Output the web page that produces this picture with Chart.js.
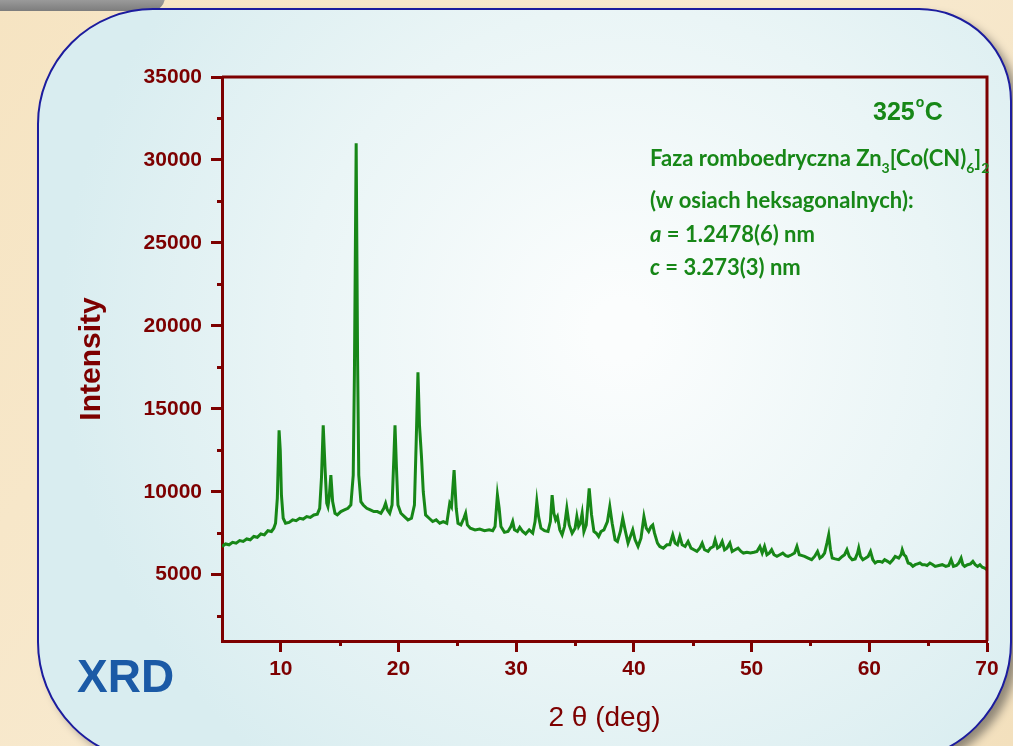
<!DOCTYPE html>
<html>
<head>
<meta charset="utf-8">
<script src="https://cdn.jsdelivr.net/npm/chart.js@4/dist/chart.umd.min.js"></script>
<style>
html, body { margin: 0; padding: 0; background: #f5e5c6; overflow: hidden; }
canvas { display: block; }
</style>
</head>
<body>
<canvas id="chart" width="1013" height="746"></canvas>
<script>
// 2θ positions (deg)
const twoTheta = [
  5.0, 5.3, 5.6, 5.9, 6.2, 6.5, 6.8, 7.1, 7.4, 7.7,
  8.0, 8.3, 8.6, 8.9, 9.2, 9.4, 9.55, 9.7, 9.85, 9.95,
  10.05, 10.2, 10.4, 10.7, 11.0, 11.3, 11.6, 11.9, 12.2, 12.5,
  12.8, 13.1, 13.3, 13.45, 13.6, 13.75, 13.9, 14.0, 14.1, 14.25,
  14.4, 14.6, 14.8, 15.1, 15.4, 15.7, 15.95, 16.15, 16.25, 16.4,
  16.52, 16.62, 16.8, 17.0, 17.3, 17.6, 17.9, 18.2, 18.5, 18.75,
  18.9, 19.05, 19.25, 19.45, 19.6, 19.7, 19.82, 19.95, 20.2, 20.5,
  20.8, 21.1, 21.35, 21.5, 21.65, 21.78, 21.95, 22.1, 22.3, 22.6,
  22.9, 23.2, 23.5, 23.8, 24.1, 24.35, 24.5, 24.72, 24.9, 25.05,
  25.3, 25.55, 25.7, 25.85, 26.1, 26.5, 26.9, 27.3, 27.7, 28.0,
  28.2, 28.4, 28.55, 28.7, 29.0, 29.3, 29.55, 29.7, 29.85, 30.1,
  30.3, 30.55, 30.8, 31.1, 31.4, 31.6, 31.75, 31.9, 32.1, 32.4,
  32.7, 32.9, 33.05, 33.2, 33.35, 33.5, 33.7, 33.9, 34.1, 34.3,
  34.5, 34.75, 35.0, 35.15, 35.3, 35.45, 35.6, 35.75, 35.95, 36.2,
  36.4, 36.6, 36.8, 37.0, 37.2, 37.45, 37.75, 37.95, 38.15, 38.4,
  38.6, 38.85, 39.05, 39.25, 39.5, 39.7, 39.9, 40.1, 40.35, 40.6,
  40.85, 41.05, 41.25, 41.45, 41.6, 41.75, 42.0, 42.2, 42.5, 42.8,
  43.05, 43.3, 43.5, 43.7, 43.9, 44.1, 44.35, 44.6, 44.85, 45.1,
  45.35, 45.6, 45.8, 46.0, 46.3, 46.5, 46.75, 46.9, 47.1, 47.3,
  47.5, 47.7, 47.9, 48.15, 48.35, 48.6, 48.85, 49.1, 49.3, 49.6,
  49.9, 50.2, 50.45, 50.7, 50.9, 51.1, 51.3, 51.5, 51.7, 51.9,
  52.15, 52.4, 52.65, 52.9, 53.1, 53.4, 53.65, 53.85, 54.05, 54.3,
  54.5, 54.8, 55.1, 55.35, 55.6, 55.8, 56.0, 56.2, 56.4, 56.55,
  56.7, 56.85, 57.1, 57.4, 57.7, 57.9, 58.1, 58.3, 58.55, 58.8,
  59.0, 59.1, 59.25, 59.45, 59.7, 59.9, 60.1, 60.3, 60.5, 60.7,
  60.9, 61.1, 61.3, 61.55, 61.75, 62.0, 62.2, 62.5, 62.7, 62.8,
  62.95, 63.1, 63.3, 63.5, 63.7, 63.9, 64.1, 64.3, 64.5, 64.7,
  64.9, 65.15, 65.4, 65.6, 65.9, 66.2, 66.5, 66.75, 66.95, 67.15,
  67.4, 67.6, 67.8, 67.95, 68.1, 68.35, 68.6, 68.8, 69.0, 69.2,
  69.4, 69.6, 69.8, 70.0
];

// intensity (counts) at each 2θ above
const intensity = [
  6700, 6850, 6800, 6950, 6900, 7050, 7000, 7150, 7100, 7300,
  7250, 7450, 7400, 7650, 7600, 7800, 8100, 9600, 13700, 12500,
  9800, 8400, 8100, 8150, 8300, 8250, 8400, 8350, 8500, 8450,
  8600, 8650, 9000, 10800, 14000, 11500, 9300, 9100, 9600, 11000,
  9400, 8700, 8600, 8800, 8900, 9000, 9200, 11000, 17000, 31000,
  18000, 11000, 9400, 9200, 9000, 8900, 8800, 8800, 8700, 9000,
  9300, 8900, 8700, 9200, 12000, 14000, 11500, 9200, 8700, 8500,
  8300, 8400, 9200, 13000, 17200, 14000, 12100, 10000, 8600, 8400,
  8200, 8300, 8100, 8200, 8100, 9300, 9100, 11300, 9000, 8100,
  8000, 8400, 8700, 8000, 7800, 7700, 7750, 7650, 7700, 7650,
  7900, 9800, 9000, 7900, 7550, 7600, 7900, 8200, 7700, 7600,
  7850, 7600, 7450, 7700, 7500, 8200, 9400, 8500, 7800, 7650,
  7600, 8200, 9800, 8700, 8300, 8500, 7700, 7400, 7900, 9000,
  8000, 7500, 7800, 8500, 7900, 8100, 8700, 7600, 8000, 10200,
  8600, 7600, 7500, 7300, 7600, 7700, 8200, 9100, 8100, 7100,
  7000, 7600, 8400, 7700, 6900, 7300, 7700, 7100, 6700, 7200,
  8500, 7800, 7600, 7900, 8000, 7500, 6900, 6700, 6600, 6800,
  6800, 7400, 6900, 6800, 7300, 6800, 6700, 7000, 6600, 6500,
  6400, 6600, 6900, 6500, 6400, 6600, 6700, 7100, 6600, 6700,
  7000, 6500, 6600, 6900, 6400, 6500, 6600, 6400, 6300, 6350,
  6300, 6350, 6400, 6700, 6300, 6700, 6200, 6300, 6500, 6200,
  6100, 6200, 6300, 6150, 6100, 6200, 6300, 6700, 6200, 6150,
  6100, 6000, 5900, 6100, 6400, 6000, 6100, 6300, 6900, 7400,
  6500, 6000, 5950, 5900, 6100, 6200, 6500, 6100, 5900, 5950,
  6300, 6600, 6100, 5900, 6000, 6100, 6400, 5900, 5700, 5800,
  5800, 5750, 5900, 5800, 5700, 5900, 6100, 6000, 6200, 6500,
  6200, 6100, 5700, 5650, 5500, 5600, 5650, 5700, 5600, 5600,
  5550, 5700, 5600, 5500, 5550, 5600, 5500, 5550, 5900, 5500,
  5550, 5700, 6000, 5600, 5500, 5600, 5650, 5800, 5600, 5500,
  5600, 5450, 5400, 5300
];

const xTicks = [10, 20, 30, 40, 50, 60, 70];
const xMinorTicks = [15, 25, 35, 45, 55, 65];
const yTicks = [5000, 10000, 15000, 20000, 25000, 30000, 35000];
const yMinorTicks = [2500, 7500, 12500, 17500, 22500, 27500, 32500];

const AXIS = '#7d0000';
const GREEN = '#178717';

function panelPath(ctx, x, y, w, h, r) {
  const [tl, tr, br, bl] = r;
  ctx.beginPath();
  ctx.moveTo(x + tl, y);
  ctx.lineTo(x + w - tr, y);
  ctx.arcTo(x + w, y, x + w, y + tr, tr);
  ctx.lineTo(x + w, y + h - br);
  ctx.arcTo(x + w, y + h, x + w - br, y + h, br);
  ctx.lineTo(x + bl, y + h);
  ctx.arcTo(x, y + h, x, y + h - bl, bl);
  ctx.lineTo(x, y + tl);
  ctx.arcTo(x, y, x + tl, y, tl);
  ctx.closePath();
}

const backdrop = {
  id: 'backdrop',
  beforeDraw(chart) {
    const ctx = chart.ctx;
    ctx.save();
    // beige page
    const bg = ctx.createLinearGradient(0, 0, 1013, 746);
    bg.addColorStop(0, '#f6e4c2');
    bg.addColorStop(0.5, '#f8ead0');
    bg.addColorStop(1, '#f3e0bd');
    ctx.fillStyle = bg;
    ctx.fillRect(0, 0, 1013, 746);

    // grey tab at top-left
    const g = ctx.createLinearGradient(0, 0, 0, 12);
    g.addColorStop(0, '#9a9a9a');
    g.addColorStop(1, '#7a7a7a');
    ctx.fillStyle = g;
    panelPath(ctx, -30, -40, 195, 51, [14, 14, 14, 14]);
    ctx.fill();

    // light blue panel with shadow
    ctx.shadowColor = 'rgba(60,60,60,0.55)';
    ctx.shadowBlur = 10;
    ctx.shadowOffsetX = 7;
    ctx.shadowOffsetY = 6;
    const pg = ctx.createRadialGradient(620, 330, 30, 620, 330, 560);
    pg.addColorStop(0, '#fbfdfd');
    pg.addColorStop(0.55, '#eaf5f6');
    pg.addColorStop(1, '#d9edf0');
    ctx.fillStyle = pg;
    panelPath(ctx, 38, 9, 973, 753, [115, 92, 120, 120]);
    ctx.fill();
    ctx.shadowColor = 'transparent';
    ctx.lineWidth = 2;
    ctx.strokeStyle = '#1c1c9e';
    ctx.stroke();
    ctx.restore();
  },
  afterDatasetsDraw(chart) {
    const ctx = chart.ctx;
    const xs = chart.scales.x, ys = chart.scales.y;
    const a = chart.chartArea;
    ctx.save();
    ctx.strokeStyle = AXIS;
    ctx.lineWidth = 3;
    // top and right frame
    ctx.beginPath();
    ctx.moveTo(a.left, a.top);
    ctx.lineTo(a.right, a.top);
    ctx.lineTo(a.right, a.bottom);
    ctx.stroke();
    // minor ticks
    ctx.beginPath();
    xMinorTicks.forEach(v => {
      const px = Math.round(xs.getPixelForValue(v)) + 0.5;
      ctx.moveTo(px, a.bottom);
      ctx.lineTo(px, a.bottom + 5);
    });
    yMinorTicks.forEach(v => {
      const py = Math.round(ys.getPixelForValue(v)) + 0.5;
      ctx.moveTo(a.left, py);
      ctx.lineTo(a.left - 5, py);
    });
    ctx.stroke();
    ctx.restore();
  },
  afterDraw(chart) {
    const ctx = chart.ctx;
    ctx.save();
    ctx.fillStyle = GREEN;
    ctx.textBaseline = 'alphabetic';

    // temperature
    ctx.font = 'bold 25px "Liberation Sans"';
    ctx.fillText('325', 873, 120);
    let w = ctx.measureText('325').width;
    ctx.font = 'bold 14px "Liberation Sans"';
    ctx.fillText('o', 873 + w + 1, 107);
    ctx.font = 'bold 25px "Liberation Sans"';
    ctx.fillText('C', 873 + w + 10, 120);

    const runs = (x, y, parts) => {
      let cx = x;
      parts.forEach(p => {
        ctx.font = p.font;
        ctx.fillText(p.text, cx, y + (p.dy || 0));
        cx += ctx.measureText(p.text).width;
      });
    };
    const B = 'bold 22px Lato';
    const S = 'bold 14px Lato';
    const I = 'italic bold 22px Lato';
    runs(650, 166, [
      { text: 'Faza romboedryczna Zn', font: B },
      { text: '3', font: S, dy: 7 },
      { text: '[Co(CN)', font: B },
      { text: '6', font: S, dy: 7 },
      { text: ']', font: B },
      { text: '2', font: S, dy: 7 }
    ]);
    runs(650, 208, [{ text: '(w osiach heksagonalnych):', font: B }]);
    runs(650, 242, [{ text: 'a', font: I }, { text: ' = 1.2478(6) nm', font: B }]);
    runs(650, 275, [{ text: 'c', font: I }, { text: ' = 3.273(3) nm', font: B }]);

    // XRD label
    ctx.fillStyle = '#1b5aa6';
    ctx.font = 'bold 46px "Liberation Sans"';
    ctx.fillText('XRD', 77, 692);
    ctx.restore();
  }
};

const ctx = document.getElementById('chart').getContext('2d');

const chart = new Chart(ctx, {
  type: 'line',
  data: {
    datasets: [{
      label: 'XRD 325°C',
      data: twoTheta.map((t, i) => ({ x: t, y: intensity[i] })),
      borderColor: GREEN,
      borderWidth: 3,
      pointRadius: 0,
      tension: 0,
      fill: false
    }]
  },
  options: {
    responsive: false,
    animation: false,
    layout: { padding: { left: 68, right: 26, top: 77, bottom: 0 } },
    plugins: {
      legend: { display: false },
      tooltip: { enabled: false }
    },
    scales: {
      x: {
        type: 'linear',
        min: 5,
        max: 70,
        afterBuildTicks: s => { s.ticks = xTicks.map(v => ({ value: v })); },
        afterFit: s => { s.height = 105; },
        ticks: {
          color: AXIS,
          padding: 5,
          font: { family: 'Liberation Sans', weight: 'bold', size: 21 },
          callback: v => String(v)
        },
        grid: {
          drawOnChartArea: false,
          drawTicks: true,
          tickLength: 11,
          tickWidth: 3,
          tickColor: AXIS,
          color: AXIS
        },
        border: { display: true, color: AXIS, width: 3 },
        title: {
          display: true,
          text: '2 θ (deg)',
          color: AXIS,
          font: { family: 'Liberation Sans', size: 28 },
          padding: { top: 0, bottom: 11 }
        }
      },
      y: {
        min: 1000,
        max: 35000,
        afterBuildTicks: s => { s.ticks = yTicks.map(v => ({ value: v })); },
        afterFit: s => { s.width = 154; },
        ticks: {
          color: AXIS,
          padding: 9,
          font: { family: 'Liberation Sans', weight: 'bold', size: 21 },
          callback: v => String(v)
        },
        grid: {
          drawOnChartArea: false,
          drawTicks: true,
          tickLength: 11,
          tickWidth: 3,
          tickColor: AXIS,
          color: AXIS
        },
        border: { display: true, color: AXIS, width: 3 },
        title: {
          display: true,
          text: 'Intensity',
          color: AXIS,
          font: { family: 'Liberation Sans', weight: 'bold', size: 30 },
          padding: { top: 6, bottom: 0 }
        }
      }
    }
  },
  plugins: [backdrop]
});
</script>
</body>
</html>
